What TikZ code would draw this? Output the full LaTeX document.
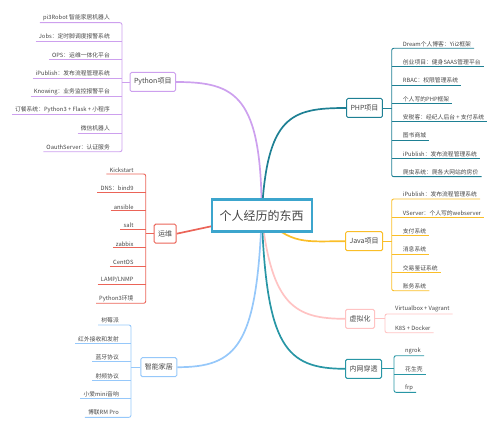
\documentclass[tikz,border=0pt]{standalone}
\usepackage{fontspec}
\setmainfont{Noto Sans CJK SC}
\usetikzlibrary{backgrounds}
\definecolor{pyc}{RGB}{205,160,238}
\definecolor{phpc}{RGB}{30,128,148}
\definecolor{ywc}{RGB}{235,100,88}
\definecolor{javac}{RGB}{250,190,40}
\definecolor{homec}{RGB}{150,200,250}
\definecolor{virc}{RGB}{255,195,195}
\definecolor{netc}{RGB}{40,150,165}
\definecolor{centc}{RGB}{60,165,205}
\definecolor{textc}{RGB}{70,70,70}
\begin{document}
\begin{tikzpicture}[x=1pt,y=-1pt,
  leaf/.style={font=\fontsize{5.8}{7}\selectfont, text=textc, inner xsep=3pt, inner ysep=1.6pt},
  leafL/.style={leaf, anchor=south east},
  leafR/.style={leaf, anchor=south west},
  br/.style={draw=#1, fill=white, line width=1pt, rounded corners=1.5pt, font=\fontsize{7}{8}\selectfont, text=textc, minimum height=19pt, inner xsep=4pt, inner ysep=2pt},
  ln/.style={draw=#1, line width=0.9pt},
  conn/.style={draw=#1, line width=1.7pt},
]
\useasboundingbox (0,0) rectangle (500,433);

% central
\node[draw=centc, line width=2.2pt, fill=white, font=\fontsize{12}{14}\selectfont, text=textc, minimum width=100pt, minimum height=32pt, inner sep=0pt] (c) at (261.7,215.5) {个人经历的东西};

% Python
\node[br=pyc, anchor=east] (py) at (176,82) {Python项目};
\coordinate (pyb) at (122,82);
\foreach \t [count=\i] in {pi3Robot 智能家居机器人, Jobs：定时脚调度报警系统, OPS：运维一体化平台, iPublish：发布流程管理系统, Knowing：业务监控报警平台, 订餐系统：Python3 + Flask + 小程序, 微信机器人, OauthServer：认证服务}
  \node[leafL] (py\i) at (113,{22.7+18.43*(\i-1)}) {\t};
\foreach \i in {2,...,7} \draw[ln=pyc] (py\i.south west) -- (py\i.south -| pyb);
\draw[ln=pyc, rounded corners=2pt] (py1.south west) -- (py1.south -| pyb) -- (py8.south -| pyb) -- (py8.south west);
\draw[ln=pyc] (py.west) -- (pyb);

% PHP
\node[br=phpc, anchor=west] (php) at (346,108) {PHP项目};
\coordinate (phpb) at (391.7,108);
\foreach \t [count=\i] in {Dream个人博客：Yii2框架, 创业项目：健身SAAS管理平台, RBAC：权限管理系统, 个人写的PHP框架, 安税客：经纪人后台 + 支付系统, 图书商城, iPublish：发布流程管理系统, 爬虫系统：爬各大网站的房价}
  \node[leafR] (php\i) at (399.7,{48.3+18.34*(\i-1)}) {\t};
\foreach \i in {2,...,7} \draw[ln=phpc] (php\i.south -| phpb) -- (php\i.south east);
\draw[ln=phpc, rounded corners=2pt] (php1.south east) -- (php1.south -| phpb) -- (php8.south -| phpb) -- (php8.south east);
\draw[ln=phpc] (php.east) -- (phpb);

% 运维
\node[br=ywc, anchor=east] (yw) at (176.7,233.7) {运维};
\coordinate (ywb) at (145.7,233.7);
\foreach \t [count=\i] in {Kickstart, DNS：bind9, ansible, salt, zabbix, CentOS, LAMP/LNMP, Python3环境}
  \node[leafL] (yw\i) at (136.7,{174+18.47*(\i-1)}) {\t};
\foreach \i in {2,...,7} \draw[ln=ywc] (yw\i.south west) -- (yw\i.south -| ywb);
\draw[ln=ywc, rounded corners=2pt] (yw1.south west) -- (yw1.south -| ywb) -- (yw8.south -| ywb) -- (yw8.south west);
\draw[ln=ywc] (yw.west) -- (ywb);

% Java
\node[br=javac, anchor=west] (java) at (345,241.2) {Java项目};
\coordinate (javab) at (391.7,241.2);
\foreach \t [count=\i] in {iPublish：发布流程管理系统, VServer：个人写的webserver, 支付系统, 消息系统, 交易鉴证系统, 账务系统}
  \node[leafR] (java\i) at (399.7,{199+18.34*(\i-1)}) {\t};
\foreach \i in {2,...,5} \draw[ln=javac] (java\i.south -| javab) -- (java\i.south east);
\draw[ln=javac, rounded corners=2pt] (java1.south east) -- (java1.south -| javab) -- (java6.south -| javab) -- (java6.south east);
\draw[ln=javac] (java.east) -- (javab);

% 智能家居
\node[br=homec, anchor=east] (home) at (177.3,367.2) {智能家居};
\coordinate (homeb) at (131,367.2);
\foreach \t [count=\i] in {树莓派, 红外接收和发射, 蓝牙协议, 射频协议, 小爱mini音响, 博联RM Pro}
  \node[leafL] (home\i) at (122,{325+18.46*(\i-1)}) {\t};
\foreach \i in {2,...,5} \draw[ln=homec] (home\i.south west) -- (home\i.south -| homeb);
\draw[ln=homec, rounded corners=2pt] (home1.south west) -- (home1.south -| homeb) -- (home6.south -| homeb) -- (home6.south west);
\draw[ln=homec] (home.west) -- (homeb);

% 虚拟化
\node[br=virc, anchor=west] (vir) at (345,318.8) {虚拟化};
\coordinate (virb) at (385,318.8);
\node[leafR] (vir1) at (392,314) {Virtualbox + Vagrant};
\node[leafR] (vir2) at (392,332.7) {K8S + Docker};
\draw[ln=virc, rounded corners=2pt] (vir1.south east) -- (vir1.south -| virb) -- (vir2.south -| virb) -- (vir2.south east);
\draw[ln=virc] (vir.east) -- (virb);

% 内网穿透
\node[br=netc, anchor=west] (net) at (345,368.8) {内网穿透};
\coordinate (netb) at (394,368.8);
\node[leafR] (net1) at (402,355.7) {ngrok};
\node[leafR] (net2) at (402,374) {花生壳};
\node[leafR] (net3) at (402,392.3) {frp};
\draw[ln=netc] (net2.south -| netb) -- (net2.south east);
\draw[ln=netc, rounded corners=2pt] (net1.south east) -- (net1.south -| netb) -- (net3.south -| netb) -- (net3.south east);
\draw[ln=netc] (net.east) -- (netb);

% main connectors
\begin{scope}[on background layer]
\draw[conn=pyc] (c.center) .. controls +(0,-120) and +(60,0) .. (py.east);
\draw[conn=phpc] (c.center) .. controls +(5,-100) and +(-55,0) .. (php.west);
\draw[conn=ywc] (c.center) -- (yw.east);
\draw[conn=javac] (c.center) .. controls +(30,30) and +(-40,0) .. (java.west);
\draw[conn=virc] (c.center) .. controls +(10,90) and +(-50,0) .. (vir.west);
\draw[conn=netc] (c.center) .. controls +(5,130) and +(-60,0) .. (net.west);
\draw[conn=homec] (c.center) .. controls +(-5,130) and +(60,0) .. (home.east);
\end{scope}
\end{tikzpicture}
\end{document}
